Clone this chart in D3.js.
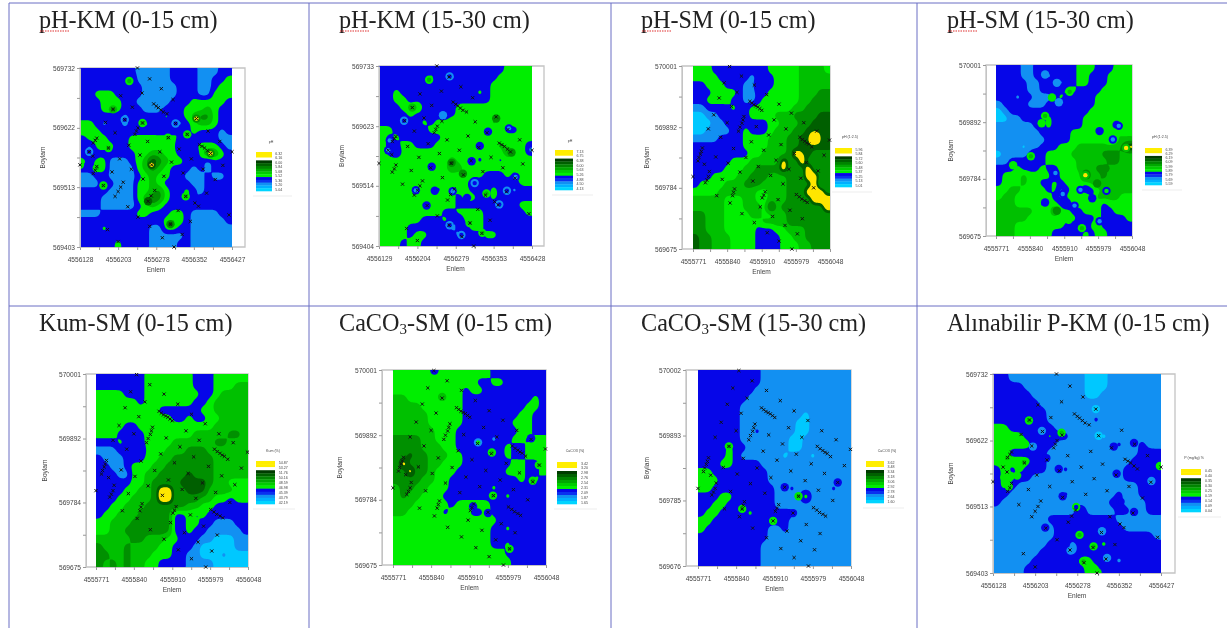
<!DOCTYPE html>
<html>
<head>
<meta charset="utf-8">
<script src="https://cdnjs.cloudflare.com/ajax/libs/d3/7.8.5/d3.min.js"></script>
<style>
html,body{margin:0;padding:0;background:#fff}
svg{display:block;filter:blur(.5px)}
</style>
</head>
<body>
<div id="chart"></div>
<script>
// panel titles
const titles = ['pH-KM (0-15 cm)','pH-KM (15-30 cm)','pH-SM (0-15 cm)','pH-SM (15-30 cm)',
  'Kum-SM (0-15 cm)','CaCO3-SM (0-15 cm)','CaCO3-SM (15-30 cm)','Alınabilir P-KM (0-15 cm)'];
const legendTitles = ['pH','pH','pH (1:2.5)','pH (1:2.5)','Kum (%)','CaCO3 (%)','CaCO3 (%)','P (mg/kg) %'];

// axis ticks
const eastKm1 = [4556128,4556203,4556278,4556352,4556427];
const eastKm2 = [4556129,4556204,4556279,4556353,4556428];
const eastSm = [4555771,4555840,4555910,4555979,4556048];
const northKm1 = [569403,569513,569622,569732];
const northKm2 = [569404,569514,569623,569733];
const northSm1 = [569675,569784,569892,570001];
const northSm2 = [569676,569785,569893,570002];

// legend values, top to bottom
const legendValues = [
  [6.32,6.16,6.00,5.84,5.68,5.52,5.36,5.20,5.04],
  [7.13,6.75,6.38,6.00,5.63,5.26,4.88,4.50,4.13],
  [5.96,5.84,5.72,5.60,5.48,5.37,5.25,5.13,5.01],
  [6.39,6.29,6.19,6.09,5.99,5.89,5.79,5.69,5.59],
  [54.87,53.27,51.76,50.16,48.59,46.98,45.39,43.79,42.19],
  [3.42,3.20,2.98,2.76,2.54,2.31,2.09,1.87,1.65],
  [3.62,3.48,3.34,3.18,3.06,2.92,2.78,2.64,1.60],
  [0.45,0.40,0.35,0.30,0.25,0.19,0.14,0.09,0.04]
];

// sample points, metres from the lower left map corner
const samplesKm = [[113,329],[137,309],[160,291],[183,271],[80,278],[122,283],[103,257],[65,253],[145,263],[150,259],[154,256],[159,252],[164,248],[171,245],[229,236],[88,234],[50,229],[123,228],[114,219],[108,207],[111,213],[188,227],[252,213],[174,201],[211,207],[133,194],[69,210],[33,200],[26,191],[30,196],[18,175],[25,167],[33,148],[30,141],[26,135],[0,151],[56,182],[96,187],[275,194],[299,175],[235,188],[240,185],[245,182],[251,177],[257,172],[219,162],[195,180],[157,175],[118,169],[78,162],[141,151],[180,156],[281,150],[242,143],[63,138],[101,143],[203,136],[165,130],[124,125],[266,124],[85,119],[80,110],[75,102],[69,93],[46,113],[249,99],[208,93],[226,81],[233,75],[147,104],[140,94],[134,84],[94,74],[193,67],[293,59],[114,55],[178,42],[217,47],[54,32],[75,10],[162,17],[201,23],[185,0],[137,38]];
const samplesSm = [[74,325],[98,308],[124,292],[149,275],[174,258],[199,242],[63,296],[89,279],[53,269],[78,254],[42,239],[69,225],[31,214],[56,199],[115,263],[119,260],[123,257],[127,255],[131,253],[135,250],[139,247],[103,236],[101,230],[99,224],[95,217],[92,210],[128,218],[164,230],[188,214],[224,225],[250,210],[276,194],[153,203],[118,191],[178,186],[216,199],[221,195],[226,192],[230,189],[234,187],[240,182],[19,180],[17,174],[15,169],[12,163],[10,157],[82,179],[143,176],[205,170],[265,167],[46,164],[107,163],[168,158],[229,154],[71,153],[23,151],[33,138],[31,129],[28,123],[25,118],[0,129],[132,147],[194,142],[253,139],[95,137],[157,131],[218,126],[59,124],[121,121],[182,116],[244,109],[209,97],[215,93],[220,89],[226,86],[231,83],[146,102],[143,96],[140,91],[136,75],[172,88],[196,69],[221,54],[161,58],[99,63],[124,47],[150,29],[186,42],[211,27],[174,14],[200,0],[84,107],[82,101],[80,95],[75,82],[48,95]];

// local highs and lows around single samples: east, north, outer class, inner class
const spotsPhKm015 = [[97,305,3,4],[123,228,3,4],[188,227,1,2],[88,234,1,2],[18,175,1,2],[33,145,3,4],[0,151,3,3],[46,113,3,4],[208,93,3,4],[229,236,5,7],[257,172,5,7],[134,84,6,6],[178,42,5,6],[65,253,4,5],[141,151,6,7],[173,201,3,4],[211,207,3,4],[56,182,3,4]];
const spotsPhKm1530 = [[98,304,3,4],[138,310,1,2],[49,229,1,2],[125,239,1,1],[254,215,2,1],[213,209,2,2],[197,183,2,2],[181,155,2,2],[103,145,2,2],[267,126,2,1],[72,102,2,1],[109,101,2,2],[144,100,2,1],[172,88,2,2],[93,74,2,2],[210,96,3,4],[202,24,3,4],[177,42,3,4],[138,38,1,2],[161,20,1,2],[187,115,1,2],[250,101,1,2],[235,76,1,2],[142,152,5,6],[164,132,5,5],[229,233,5,5],[259,171,5,5],[65,253,4,4],[21,193,2,1],[18,175,2,1],[298,176,2,1]];
const spotsPhSm1530 = [[100,308,1,1],[124,292,1,1],[150,275,3,4],[114,264,3,3],[128,255,1,1],[100,229,3,4],[93,215,3,3],[250,210,2,1],[238,184,2,1],[211,200,2,2],[265,168,4,7],[71,152,3,4],[35,135,3,3],[121,120,2,1],[182,116,4,7],[172,88,2,1],[136,80,2,1],[100,64,2,2],[160,58,2,1],[124,48,5,5],[175,15,3,4],[223,129,5,5],[206,100,5,5],[225,86,2,3],[196,72,2,2],[211,28,2,1],[148,31,3,3]];
const spotsCacoSm015 = [[75,325,2,2],[154,205,1,3],[179,188,3,4],[250,212,2,2],[264,167,3,4],[253,141,3,4],[181,116,3,4],[211,27,3,4],[172,87,2,2],[145,98,2,2],[89,281,4,4]];
const spotsCacoSm1530 = [[56,199,3,4],[157,131,2,2],[182,116,3,4],[253,139,2,2],[80,95,3,4],[136,75,3,3],[172,88,2,2]];
const spotsPKm015 = [[64,252,3,4],[87,235,1,1],[122,232,3,4],[251,215,2,2],[215,209,2,2],[95,190,2,2],[117,172,2,2],[55,183,3,4],[25,190,3,4],[297,177,3,3],[124,127,2,2],[148,109,3,2],[227,118,2,2],[251,101,2,2],[220,164,2,2],[93,75,2,2],[154,63,3,4],[179,44,3,4],[161,19,3,4],[186,1,3,3],[138,37,1,1],[203,25,1,1],[194,69,1,1],[188,227,0,0],[183,271,0,0],[282,152,1,1],[71,209,1,1],[31,160,3,3],[43,161,3,3],[20,158,3,3],[28,143,3,3]];

// value class read per grid cell, north to south
// 0 cyan, 1 light blue, 2 blue, 3 bright green, 4-6 darker greens, 7 yellow
const gridPhKm015 = ['2222222211111222211122','2222222311111222211223','2222222221111122211233','2233322221111122211333','2223332211111222333332','2223332221112223334322','2222221222223223455322','3321221223222112344322','3332222222222232322212','2333222333333322222211','2133322333333312233321','2122222233443322135532','3233111234754332221222','2233111134543222121222','1122111123433221112112','1113211133432222112222','2222111133453223212222','2221111134653223122222','2221111123432222222222','1112222233222332111122','2222222222223432111112','2223222222113322111111','2222222222111112111111','2222232222111122111111'];
const gridPhKm1530 = ['2222222222222222223333','2222222322122222233333','2222222222222222333333','2232222222222232333333','2233222222222222333333','2223342222233333333333','2222322221233333333333','2221223233433333433333','3322222333333332332233','3232222223333333333333','3223322233333323343332','3213333333333333335332','3333333333433323323333','3333333233543333333333','3333333333334332223233','3333333333333122222233','3333323323233222322122','3333333333323322322222','3333332333322222212233','3333333332233332222223','3333332223213332222222','3333222222122332222222','3333233222212223322222','3332332222222222222222'];
const gridPhSm015 = ['3332222222223333344443','3333222221222333344444','2233322211322333344444','2223333211223333344455','2233332211233333344555','1122223223333333445555','0011222223333444555566','0001122222223344455666','0011112232223444556666','1111222233334445566766','2222222233334445566666','2222222223344445766555','2222223334444475575555','2222233344555575557555','2223333445554445557755','2333344455544445555745','3333444444334445557775','4444433344334445555777','4444433344437455555557','5544433334433445555555','5544433333344445555555','5544433333222334445555','6554443333222233445555','6554443333222233344555'];
const gridPhSm1530 = ['2222112222222333222333','2222112212222332223333','2222211222122332223333','2222211222233222233333','2221221112322222333333','1222211122212222333333','0122222222232223333333','0011222232222233333333','1111112232222233433133','1111111222223333233433','1111111122223333332344','1111011222333444444457','0111123233334444455544','1122222233333444445544','2223222322333444554444','2333433331333374454444','2333433223233334544444','3344333323123312344444','3443333332133342444433','4443333233213333323333','4444443335332233322333','4444433333333222322223','4443333333322213322222','4443333332222232332222'];
const gridKumSm015 = ['2222222333333322233333','2222222333333322233344','3333222333333332234444','3333332333333322344444','3333333332222223344444','3333333333322322334444','3333223333333333344444','3332222333333344444554','2223222333344444455444','1112221333444555444444','2111222334455555544444','2211233344555555544444','2221133445555655544444','2222233455556666544333','2222334457755666444433','2223344457755554433233','2233444555555443322222','2334445555522323222222','3344455555522332211122','3344555555522322111112','4444455444332221100011','5444544443322210000011','5544544433322110001000','5454544332222111100000'];
const gridCacoSm015 = ['3333333333333322222222','3333333333332233222222','3333333333233222222222','4433333333222222222232','4444333333222222222332','4444433333222222223322','4444433333222222233322','4444443332222222223322','5555443332222212233233','5555444332222222322333','5565544433222222322333','5755544333222222233223','5575543332222222333223','5555443322222222223232','4554433322222232222222','4544333222222222322222','4443333323333322222222','4433333233322322222222','3333333333333332222222','3333333333333322322222','3333333333333322222222','3333333333333322322222','3333333333333333222222','3333333333333333322222'];
const gridCacoSm1530 = ['2222222221111111111111','2222222221111111111111','2222222211111111111111','2222222111111111111111','2222221111111111111111','2222221111111110111111','2222221111111100111111','2222221121111100111111','2222221111111001111111','2222322111111001111111','2222321111110111011111','2223322221111111111111','3322222222111111111111','3332222222111111111111','3322222222211211111211','2223322222211114111111','2233222222211111111111','2332222322222211111111','3322222222222111111111','3222222222112111111111','2222222222111111111111','2222222221111111111111','2222222221111111111111','2222222221111111111111'];
const gridPKm015 = ['2211111111110001111111','2222111111110001111111','2222211111110011111111','2222221111111111111111','2222222111111111111111','2222322111111211111111','3322222211111111111111','3333222322111101111111','3333322211111111211211','3322222111111111111222','3333322111111111112222','2323222112111111122222','2332211111111111122222','2321111111111111111222','2211111112111111211222','2111111111111112211122','1111111111131111221122','1111111222222222111111','1111111122222222211111','1111111122232222222221','1111111222122232222222','1111112222122222222222','1111122222233222122222','1111222222223322222222'];
const grids = [gridPhKm015,gridPhKm1530,gridPhSm015,gridPhSm1530,gridKumSm015,gridCacoSm015,gridCacoSm1530,gridPKm015];

const eastTicks = [eastKm1,eastKm2,eastSm,eastSm,eastSm,eastSm,eastSm,eastKm1];
const northTicks = [northKm1,northKm2,northSm1,northSm1,northSm1,northSm1,northSm2,northKm1];
const samples = [samplesKm,samplesKm,samplesSm,null,samplesSm,samplesSm,samplesSm,samplesKm];
const spots = [spotsPhKm015,spotsPhKm1530,[],spotsPhSm1530,[],spotsCacoSm015,spotsCacoSm1530,spotsPKm015];

// layout of each panel on the page
// map box, frame edges, legend box
const layout = [
  {tx:39,ty:28,l:80,r:232,t:68,b:247,fl:80,fr:245,by:35,lg:[256,272,152,191],lt:[271,143]},
  {tx:339,ty:28,l:379,r:532,t:66,b:246,fl:379,fr:544,by:35,lg:[555,573,150,190],lt:[570,142]},
  {tx:641,ty:28,l:693,r:830,t:66,b:249,fl:682,fr:830,by:33,lg:[835,852,148,187],lt:[850,138]},
  {tx:947,ty:28,l:996,r:1132,t:65,b:236,fl:986,fr:1132,by:33,lg:[1145,1162,148,185],lt:[1160,138]},
  {tx:39,ty:331,l:96,r:248,t:374,b:567,fl:86,fr:248,by:39,lg:[256,275,461,504],lt:[273,452]},
  {tx:339,ty:331,l:393,r:546,t:370,b:565,fl:382,fr:546,by:40,lg:[557,577,462,504],lt:[575,452]},
  {tx:641,ty:331,l:698,r:851,t:370,b:566,fl:686,fr:851,by:37,lg:[866,884,461,503],lt:[887,452]},
  {tx:947,ty:331,l:993,r:1161,t:374,b:573,fl:993,fr:1175,by:40,lg:[1181,1201,469,512],lt:[1194,459]}
];

const classColors = ['#00c8ff','#1290f2','#0606e8','#00ee00','#00c000','#009000','#005f00','#ffe600'];
const legendColors = ['#ffee00','#ffee00','#ffffff','#003c00','#006000','#008400','#00a800','#00cc00','#00ee00','#0606e8','#0a30f0','#1290f2','#00b0ff','#00d4ff'];
const axisColor = '#c4c4c4', textColor = '#444', lineColor = '#6a6ec4';
const zoom = 8; // contouring resolution per grid cell

const svg = d3.select('#chart').append('svg').attr('width',1227).attr('height',628);
svg.append('rect').attr('width',1227).attr('height',628).attr('fill','#fff');

// slide table rules
const vRules = [9,309,611,917], hRules = [3,306];
svg.selectAll('.vrule').data(vRules).join('line').attr('class','vrule')
  .attr('x1',d=>d).attr('x2',d=>d).attr('y1',3).attr('y2',628)
  .attr('stroke',lineColor).attr('stroke-width',1);
svg.selectAll('.hrule').data(hRules).join('line').attr('class','hrule')
  .attr('x1',9).attr('x2',1227).attr('y1',d=>d).attr('y2',d=>d)
  .attr('stroke',lineColor).attr('stroke-width',1);

layout.forEach((p,i)=>{
  const g = svg.append('g');
  const east = eastTicks[i], north = northTicks[i];
  const x = d3.scaleLinear().domain(d3.extent(east)).range([p.l,p.r]);
  const y = d3.scaleLinear().domain(d3.extent(north)).range([p.b,p.t]);
  const x0 = d3.min(east), y0 = d3.min(north);

  // title, with subscript for CaCO3 and the spell check squiggle under pH
  const title = g.append('text').attr('x',p.tx).attr('y',p.ty)
    .attr('font-family','"Liberation Serif"').attr('font-size',24.2).attr('fill','#222');
  if (titles[i].startsWith('CaCO3')) {
    title.append('tspan').text('CaCO');
    title.append('tspan').text('3').attr('font-size',15).attr('dy',3);
    title.append('tspan').text(titles[i].slice(5)).attr('dy',-3);
  } else title.text(titles[i]);
  if (titles[i].startsWith('pH')) {
    g.append('line').attr('x1',p.tx+1).attr('x2',p.tx+30).attr('y1',p.ty+3).attr('y2',p.ty+3)
      .attr('stroke','#e03030').attr('stroke-width',1.2).attr('stroke-dasharray','1.5 1');
  }

  // frame behind the map
  g.append('path').attr('fill','none').attr('stroke',axisColor).attr('stroke-width',1.3)
    .attr('d',`M${p.fl},${p.t}H${p.fr}V${p.b}H${p.fl}Z`);

  // filled classes: the grid is blown up and softened so the contours run smooth
  const rows = grids[i], nRows = rows.length, nCols = 22;
  const w = nCols*zoom, h = nRows*zoom;
  const values = new Float64Array(w*h);
  for (let b=0;b<h;b++) for (let a=0;a<w;a++) {
    values[b*w+a] = +rows[Math.floor(b/zoom)][Math.floor(a/zoom)];
  }
  d3.blur2({data:values,width:w,height:h},3);
  const gx = d3.scaleLinear().domain([0,w]).range([p.l,p.r]);
  const gy = d3.scaleLinear().domain([0,h]).range([p.t,p.b]);
  const path = d3.geoPath(d3.geoTransform({point(a,b){ this.stream.point(gx(a),gy(b)); }}));
  const levels = [0.5,1.5,2.5,3.5,4.5,5.5,6.1];
  const contours = d3.contours().size([w,h]).smooth(true).thresholds(levels)(values);
  g.append('rect').attr('x',p.l).attr('y',p.t).attr('width',p.r-p.l).attr('height',p.b-p.t).attr('fill',classColors[0]);
  g.append('g').selectAll('path').data(contours).join('path')
    .attr('d',path).attr('fill',(d,k)=>classColors[k+1]);

  // bullseyes around single samples, kept inside the map
  const clipId = `map${i}`;
  g.append('clipPath').attr('id',clipId).append('rect')
    .attr('x',p.l).attr('y',p.t).attr('width',p.r-p.l).attr('height',p.b-p.t);
  const sg = g.append('g').attr('clip-path',`url(#${clipId})`);
  sg.selectAll('.outer').data(spots[i]).join('circle').attr('class','outer')
    .attr('cx',d=>x(x0+d[0])).attr('cy',d=>y(y0+d[1])).attr('r',4.2).attr('fill',d=>classColors[d[2]]);
  sg.selectAll('.inner').data(spots[i]).join('circle').attr('class','inner')
    .attr('cx',d=>x(x0+d[0])).attr('cy',d=>y(y0+d[1])).attr('r',2.2).attr('fill',d=>classColors[d[3]]);

  // axes
  const minor = a => a.concat(d3.pairs(a).map(d=>d3.mean(d)));
  const fmt = a => d => a.includes(d) ? d : '';
  const xAxis = d3.axisBottom(x).tickValues(minor(east)).tickFormat(fmt(east)).tickSize(3).tickSizeOuter(0);
  const yAxis = d3.axisLeft(y).tickValues(minor(north)).tickFormat(fmt(north)).tickSize(3).tickSizeOuter(0);
  const xg = g.append('g').attr('transform',`translate(0,${p.b})`).call(xAxis);
  const yg = g.append('g').attr('transform',`translate(${p.fl},0)`).call(yAxis);
  [xg,yg].forEach(a=>{
    a.select('.domain').attr('stroke',axisColor);
    a.selectAll('line').attr('stroke','#999');
    a.selectAll('text').attr('fill',textColor).attr('font-family','"Liberation Sans"').attr('font-size',6.6);
  });
  xg.selectAll('text').attr('y',10);
  yg.selectAll('text').attr('x',-5);
  g.append('text').attr('x',(p.l+p.r)/2).attr('y',p.b+25).attr('text-anchor','middle')
    .attr('font-family','"Liberation Sans"').attr('font-size',6.6).attr('fill',textColor).text('Enlem');
  g.append('text').attr('transform',`translate(${p.fl-p.by},${(p.t+p.b)/2}) rotate(-90)`).attr('text-anchor','middle')
    .attr('font-family','"Liberation Sans"').attr('font-size',6.6).attr('fill',textColor).text('Boylam');

  // sample locations
  if (samples[i]) {
    g.append('g').selectAll('path').data(samples[i]).join('path')
      .attr('transform',d=>`translate(${x(x0+d[0])},${y(y0+d[1])})`)
      .attr('d',d3.symbol(d3.symbolTimes,8))
      .attr('fill','none').attr('stroke','#111').attr('stroke-width',1);
  }

  // legend
  const [lx0,lx1,ly0,ly1] = p.lg;
  const band = d3.scaleBand().domain(d3.range(legendColors.length)).range([ly0,ly1]);
  g.append('g').selectAll('rect').data(legendColors).join('rect')
    .attr('x',lx0).attr('width',lx1-lx0).attr('y',(d,k)=>band(k)).attr('height',band.bandwidth()+.3).attr('fill',d=>d);
  const ly = d3.scalePoint().domain(d3.range(9)).range([ly0+1.5,ly1-1]);
  g.append('g').selectAll('text').data(legendValues[i]).join('text')
    .attr('x',lx1+(lx1-lx0)*.2).attr('y',(d,k)=>ly(k)+1).attr('font-family','"Liberation Sans"')
    .attr('font-size',3.6).attr('fill',textColor).text(d=>d3.format('.2f')(d));
  g.append('text').attr('x',p.lt[0]).attr('y',p.lt[1]).attr('text-anchor','middle')
    .attr('font-family','"Liberation Sans"').attr('font-size',3.6).attr('fill',textColor).text(legendTitles[i]);
  g.append('line').attr('x1',lx0-3).attr('x2',lx1+20).attr('y1',ly1+5).attr('y2',ly1+5)
    .attr('stroke','#e8e8e8').attr('stroke-width',.8);
});
</script>
</body>
</html>
